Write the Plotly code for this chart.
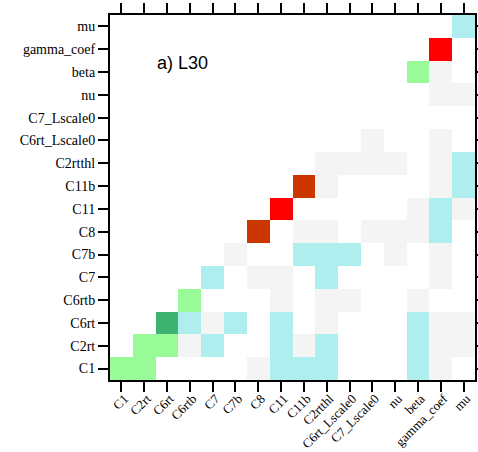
import plotly.graph_objects as go

# Parameter names, shared by both axes (bottom to top / left to right)
params = ["C1", "C2rt", "C6rt", "C6rtb", "C7", "C7b", "C8", "C11", "C11b",
          "C2rtthl", "C6rt_Lscale0", "C7_Lscale0", "nu", "beta", "gamma_coef", "mu"]

# Class colours: 0 none, 1 weak, 2 moderate, 3 strong, 4 very strong, 5 high, 6 maximal
class_colors = ["#FFFFFF", "#F4F4F4", "#AFEEEE", "#98FB98", "#3CB371", "#CC3700", "#FF0000"]

# Sensitivity class for each pair (one row per parameter, C1 first)
row_C1           = [3, 3, 0, 0, 0, 0, 1, 2, 2, 2, 0, 0, 0, 2, 1, 0]
row_C2rt         = [0, 3, 3, 1, 2, 0, 0, 2, 1, 2, 0, 0, 0, 2, 1, 1]
row_C6rt         = [0, 0, 4, 2, 1, 2, 0, 2, 0, 1, 0, 0, 0, 2, 1, 1]
row_C6rtb        = [0, 0, 0, 3, 0, 0, 0, 1, 0, 1, 1, 0, 0, 1, 0, 0]
row_C7           = [0, 0, 0, 0, 2, 0, 1, 1, 0, 2, 0, 0, 0, 0, 1, 0]
row_C7b          = [0, 0, 0, 0, 0, 1, 0, 0, 2, 2, 2, 0, 1, 0, 1, 0]
row_C8           = [0, 0, 0, 0, 0, 0, 5, 0, 1, 1, 0, 1, 1, 1, 2, 0]
row_C11          = [0, 0, 0, 0, 0, 0, 0, 6, 0, 0, 0, 0, 0, 1, 2, 1]
row_C11b         = [0, 0, 0, 0, 0, 0, 0, 0, 5, 1, 0, 0, 0, 0, 1, 2]
row_C2rtthl      = [0, 0, 0, 0, 0, 0, 0, 0, 0, 1, 1, 1, 1, 0, 1, 2]
row_C6rt_Lscale0 = [0, 0, 0, 0, 0, 0, 0, 0, 0, 0, 0, 1, 0, 0, 1, 0]
row_C7_Lscale0   = [0, 0, 0, 0, 0, 0, 0, 0, 0, 0, 0, 0, 0, 0, 0, 0]
row_nu           = [0, 0, 0, 0, 0, 0, 0, 0, 0, 0, 0, 0, 0, 0, 1, 1]
row_beta         = [0, 0, 0, 0, 0, 0, 0, 0, 0, 0, 0, 0, 0, 3, 1, 0]
row_gamma_coef   = [0, 0, 0, 0, 0, 0, 0, 0, 0, 0, 0, 0, 0, 0, 6, 0]
row_mu           = [0, 0, 0, 0, 0, 0, 0, 0, 0, 0, 0, 0, 0, 0, 0, 2]

z = [row_C1, row_C2rt, row_C6rt, row_C6rtb, row_C7, row_C7b, row_C8, row_C11,
     row_C11b, row_C2rtthl, row_C6rt_Lscale0, row_C7_Lscale0, row_nu, row_beta,
     row_gamma_coef, row_mu]

# Stepwise colour scale, one band per class
n = len(class_colors)
colorscale = []
for i, c in enumerate(class_colors):
    colorscale.append([i / n, c])
    colorscale.append([(i + 1) / n, c])

fig = go.Figure(go.Heatmap(
    z=z, x=params, y=params,
    colorscale=colorscale, zmin=-0.5, zmax=n - 0.5,
    showscale=False, hoverinfo="x+y+z",
))

axis_common = dict(
    showline=True, linewidth=2, linecolor="black", mirror="ticks",
    ticks="outside", ticklen=10, tickwidth=2, tickcolor="black",
    showgrid=False, zeroline=False, automargin=False,
)

fig.update_xaxes(**axis_common, tickangle=-45, ticklabelstandoff=-6,
                 ticklabelshift=3,
                 tickfont=dict(family="Liberation Serif", size=13, color="black"))
fig.update_yaxes(**axis_common, ticklabelstandoff=0,
                 tickfont=dict(family="Liberation Serif", size=14, color="black"))

fig.add_annotation(
    text="a) L30", xref="paper", yref="paper", x=0.123, y=0.868,
    xanchor="left", yanchor="middle", showarrow=False,
    font=dict(family="Liberation Sans", size=18, color="black"),
)

fig.update_layout(
    width=478, height=452,
    margin=dict(l=110, r=3, t=15, b=72),
    paper_bgcolor="white", plot_bgcolor="white",
)

fig.write_html("out.html")
